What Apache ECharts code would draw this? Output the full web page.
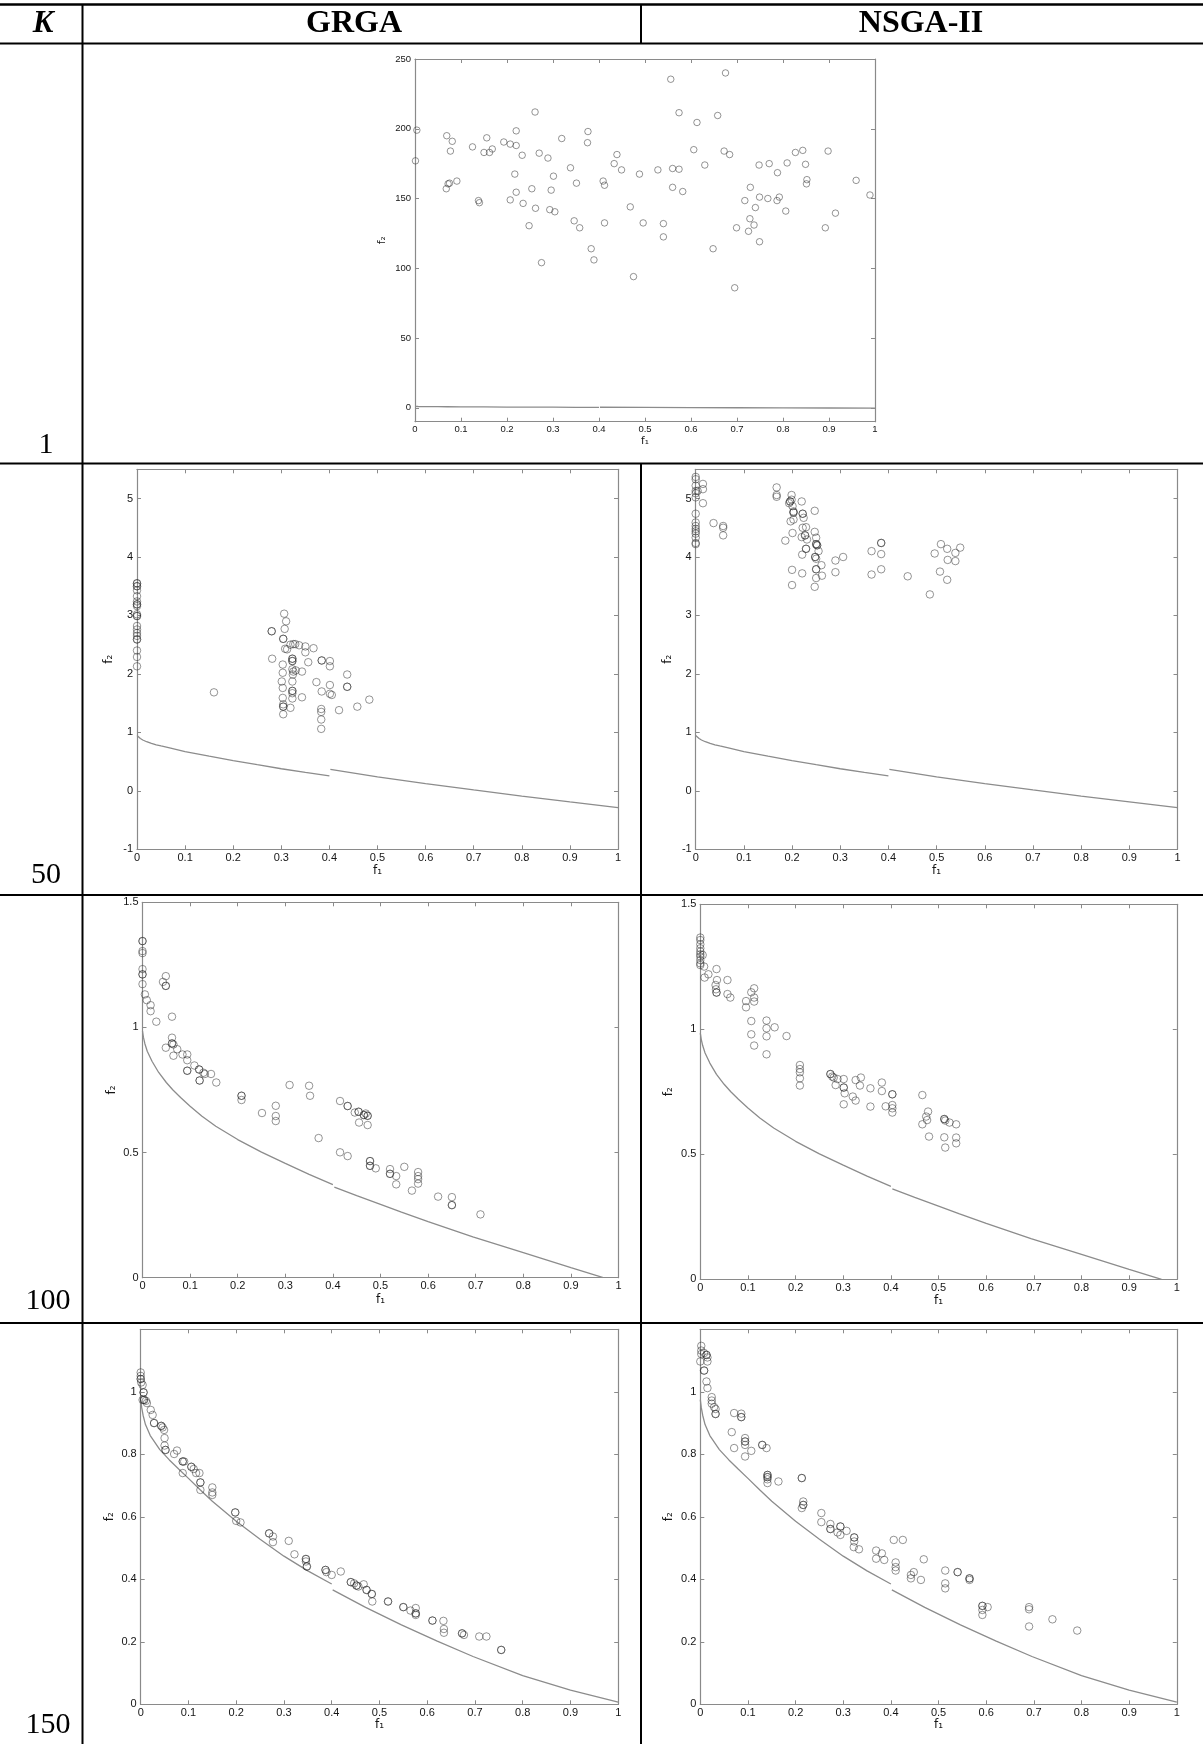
<!DOCTYPE html>
<html>
<head>
<meta charset="utf-8">
<script src="https://cdn.jsdelivr.net/npm/echarts@6/dist/echarts.min.js"></script>
<style>
html,body{margin:0;padding:0;background:#fff;}
#chart{width:1203px;height:1744px;}
</style>
</head>
<body>
<div id="chart"></div>
<script>
// ---------------- DATA ----------------
const rowLabels = ['1', '50', '100', '150'];
const colLabels = ['GRGA', 'NSGA-II'];
const xTicks = [0, 0.1, 0.2, 0.3, 0.4, 0.5, 0.6, 0.7, 0.8, 0.9, 1];
const yTicksK1 = [0, 50, 100, 150, 200, 250];
const yTicksK50 = [-1, 0, 1, 2, 3, 4, 5];
const yTicksK100 = [0, 0.5, 1, 1.5];
const yTicksK150 = [0, 0.2, 0.4, 0.6, 0.8, 1];

const k1Points = [[0.004,199],[0.001,177],[0.069,195],[0.081,191],[0.077,184],[0.068,157],[0.075,161],[0.072,160.5],[0.091,162.5],[0.125,187],[0.156,193.5],[0.150,183],[0.162,183],[0.168,185.5],[0.138,148.5],[0.140,147],[0.193,190.5],[0.207,189],[0.220,188],[0.220,198.5],[0.233,181],[0.217,167.5],[0.220,154.5],[0.207,149],[0.235,146.5],[0.248,130.5],[0.254,157],[0.261,212],[0.270,182.5],[0.262,143],[0.275,104],[0.289,179],[0.301,166],[0.296,156],[0.293,142],[0.304,140.5],[0.319,193],[0.338,172],[0.351,161],[0.346,134],[0.358,129],[0.376,198],[0.375,190],[0.383,114],[0.389,106],[0.409,162.5],[0.412,159.5],[0.412,132.5],[0.433,175],[0.439,181.5],[0.449,170.5],[0.468,144],[0.475,94],[0.488,167.5],[0.496,132.5],[0.528,170.5],[0.540,132],[0.540,122.5],[0.556,235.5],[0.560,171.5],[0.560,158],[0.574,211.5],[0.574,171],[0.582,155],[0.606,185],[0.613,204.5],[0.630,174],[0.648,114],[0.658,209.5],[0.672,184],[0.675,240],[0.684,181.5],[0.695,86],[0.699,129],[0.717,148.5],[0.725,126.5],[0.728,135.5],[0.729,158],[0.737,131],[0.740,143.5],[0.748,174],[0.749,151],[0.749,119],[0.767,150],[0.770,175],[0.788,168.5],[0.787,148.5],[0.792,151],[0.806,141],[0.809,175.5],[0.827,183],[0.843,184.5],[0.849,174.5],[0.852,163.5],[0.851,160.5],[0.892,129],[0.898,184],[0.914,139.5],[0.959,163],[0.989,152.5]];

const k50Grga = [[0,3.55],[0,3.55],[0,3.50],[0,3.50],[0,3.43],[0,3.33],[0,3.24],[0,3.19],[0,3.19],[0,3.16],[0,3.02],[0,2.99],[0,2.99],[0,2.82],[0,2.76],[0,2.70],[0,2.65],[0,2.59],[0,2.59],[0,2.40],[0,2.29],[0,2.13],
[0.160,1.685],[0.280,2.73],[0.280,2.73],[0.281,2.26],[0.306,3.03],[0.310,2.90],[0.307,2.77],[0.304,2.60],[0.304,2.60],[0.308,2.43],[0.312,2.42],[0.319,2.50],[0.325,2.51],[0.329,2.51],[0.337,2.49],[0.350,2.47],[0.350,2.37],[0.367,2.44],[0.303,2.16],[0.303,2.02],[0.301,1.87],[0.303,1.76],[0.303,1.59],[0.304,1.48],[0.304,1.44],[0.304,1.44],[0.304,1.31],[0.323,2.26],[0.323,2.26],[0.323,2.22],[0.323,2.22],[0.323,2.08],[0.325,2.04],[0.324,1.99],[0.330,2.06],[0.323,1.87],[0.323,1.71],[0.323,1.71],[0.323,1.67],[0.323,1.58],[0.319,1.42],[0.343,2.04],[0.343,1.60],[0.356,2.20],[0.384,2.23],[0.384,2.23],[0.401,2.22],[0.401,2.13],[0.373,1.86],[0.384,1.70],[0.401,1.81],[0.401,1.66],[0.405,1.64],[0.383,1.40],[0.383,1.35],[0.383,1.22],[0.383,1.06],[0.420,1.38],[0.437,1.99],[0.437,1.78],[0.437,1.78],[0.458,1.44],[0.483,1.56]];

const k50Nsga = [[0,5.37],[0,5.33],[0,5.22],[0,5.13],[0,5.09],[0,5.02],[0,4.74],[0,4.59],[0,4.53],[0,4.48],[0,4.44],[0,4.40],[0,4.33],[0,4.24],[0,4.22],[0.004,5.13],[0.015,5.25],[0.015,5.16],[0.015,4.92],[0.037,4.58],[0.057,4.53],[0.057,4.50],[0.057,4.37],[0.168,5.19],[0.168,5.06],[0.168,5.03],[0.186,4.28],[0.194,4.92],[0.196,4.95],[0.196,4.95],[0.199,5.06],[0.199,4.98],[0.201,4.87],[0.203,4.78],[0.203,4.76],[0.203,4.76],[0.197,4.61],[0.203,4.64],[0.201,4.41],[0.200,3.78],[0.200,3.52],[0.220,4.95],[0.222,4.74],[0.222,4.74],[0.224,4.67],[0.222,4.50],[0.229,4.51],[0.220,4.34],[0.227,4.37],[0.227,4.37],[0.231,4.30],[0.229,4.14],[0.229,4.14],[0.221,4.04],[0.221,3.72],[0.247,4.79],[0.247,4.43],[0.250,4.33],[0.250,4.22],[0.250,4.22],[0.252,4.20],[0.252,4.20],[0.255,4.10],[0.248,4.00],[0.248,4.00],[0.250,3.97],[0.250,3.79],[0.250,3.79],[0.261,3.86],[0.262,3.68],[0.250,3.64],[0.247,3.49],[0.290,3.94],[0.290,3.74],[0.306,4.00],[0.365,4.10],[0.385,4.24],[0.385,4.24],[0.385,4.05],[0.385,3.79],[0.365,3.70],[0.440,3.67],[0.486,3.36],[0.496,4.06],[0.507,3.75],[0.509,4.22],[0.522,4.14],[0.523,3.95],[0.522,3.61],[0.539,4.07],[0.539,3.93],[0.549,4.16]];

const k100Grga = [[0,1.345],[0,1.345],[0,1.305],[0,1.297],[0,1.233],[0,1.212],[0,1.212],[0,1.173],[0.005,1.132],[0.009,1.109],[0.017,1.089],[0.017,1.065],[0.029,1.023],[0.043,1.182],[0.049,1.205],[0.049,1.166],[0.049,1.166],[0.062,1.043],[0.062,0.959],[0.062,0.936],[0.062,0.936],[0.065,0.932],[0.049,0.919],[0.065,0.887],[0.073,0.913],[0.084,0.892],[0.094,0.892],[0.094,0.869],[0.094,0.827],[0.094,0.827],[0.109,0.848],[0.119,0.832],[0.119,0.832],[0.120,0.788],[0.120,0.788],[0.128,0.819],[0.131,0.814],[0.144,0.814],[0.155,0.780],[0.208,0.727],[0.208,0.727],[0.208,0.710],[0.251,0.658],[0.280,0.687],[0.280,0.646],[0.280,0.626],[0.309,0.770],[0.350,0.767],[0.352,0.727],[0.370,0.558],[0.415,0.706],[0.415,0.501],[0.431,0.686],[0.431,0.686],[0.431,0.486],[0.446,0.660],[0.454,0.663],[0.454,0.663],[0.455,0.620],[0.465,0.650],[0.465,0.650],[0.469,0.656],[0.473,0.647],[0.473,0.647],[0.473,0.610],[0.478,0.466],[0.478,0.466],[0.478,0.447],[0.478,0.447],[0.490,0.437],[0.520,0.434],[0.520,0.415],[0.520,0.415],[0.533,0.406],[0.533,0.373],[0.550,0.443],[0.566,0.348],[0.579,0.422],[0.579,0.406],[0.579,0.394],[0.579,0.376],[0.621,0.324],[0.650,0.322],[0.650,0.290],[0.650,0.290],[0.710,0.253]];

const k100Nsga = [[0,1.367],[0,1.357],[0,1.340],[0,1.324],[0,1.311],[0,1.300],[0,1.291],[0,1.277],[0,1.264],[0,1.257],[0.005,1.297],[0.008,1.251],[0.009,1.207],[0.017,1.220],[0.034,1.241],[0.035,1.197],[0.032,1.177],[0.033,1.160],[0.034,1.147],[0.034,1.147],[0.057,1.197],[0.057,1.141],[0.063,1.127],[0.096,1.088],[0.096,1.113],[0.107,1.148],[0.113,1.164],[0.113,1.127],[0.113,1.111],[0.107,1.033],[0.107,0.980],[0.113,0.935],[0.139,1.035],[0.139,1.004],[0.139,0.972],[0.139,0.900],[0.156,1.008],[0.181,0.973],[0.209,0.857],[0.209,0.841],[0.209,0.828],[0.209,0.804],[0.209,0.775],[0.273,0.821],[0.273,0.821],[0.277,0.811],[0.280,0.807],[0.284,0.777],[0.288,0.801],[0.301,0.801],[0.301,0.767],[0.301,0.767],[0.303,0.744],[0.301,0.700],[0.320,0.731],[0.326,0.715],[0.326,0.797],[0.335,0.775],[0.337,0.807],[0.357,0.764],[0.357,0.691],[0.381,0.787],[0.381,0.753],[0.389,0.692],[0.403,0.740],[0.403,0.740],[0.403,0.697],[0.403,0.684],[0.403,0.667],[0.466,0.737],[0.466,0.620],[0.474,0.651],[0.476,0.637],[0.478,0.671],[0.480,0.571],[0.512,0.641],[0.512,0.641],[0.514,0.635],[0.523,0.627],[0.537,0.620],[0.512,0.568],[0.514,0.527],[0.537,0.567],[0.537,0.544]];

const k150Grga = [[0,1.062],[0,1.051],[0,1.041],[0,1.041],[0.001,1.030],[0.004,1.022],[0.006,0.998],[0.006,0.998],[0.004,0.974],[0.007,0.974],[0.007,0.974],[0.011,0.971],[0.013,0.964],[0.021,0.942],[0.025,0.926],[0.028,0.900],[0.028,0.900],[0.043,0.891],[0.043,0.891],[0.046,0.886],[0.049,0.878],[0.050,0.852],[0.050,0.828],[0.052,0.814],[0.052,0.814],[0.070,0.801],[0.076,0.812],[0.088,0.777],[0.088,0.777],[0.091,0.777],[0.088,0.740],[0.106,0.760],[0.106,0.760],[0.111,0.753],[0.116,0.740],[0.123,0.740],[0.125,0.710],[0.125,0.710],[0.125,0.686],[0.150,0.694],[0.150,0.678],[0.150,0.670],[0.198,0.614],[0.198,0.614],[0.200,0.587],[0.209,0.582],[0.269,0.547],[0.269,0.547],[0.277,0.537],[0.277,0.519],[0.310,0.523],[0.322,0.480],[0.346,0.465],[0.346,0.465],[0.346,0.457],[0.348,0.441],[0.348,0.441],[0.387,0.430],[0.387,0.430],[0.389,0.423],[0.400,0.414],[0.419,0.425],[0.440,0.391],[0.440,0.391],[0.447,0.387],[0.452,0.380],[0.452,0.380],[0.456,0.377],[0.467,0.384],[0.473,0.366],[0.473,0.366],[0.484,0.353],[0.484,0.353],[0.485,0.329],[0.518,0.329],[0.518,0.329],[0.550,0.311],[0.550,0.311],[0.565,0.300],[0.576,0.308],[0.576,0.291],[0.576,0.291],[0.576,0.286],[0.611,0.268],[0.611,0.268],[0.634,0.267],[0.635,0.241],[0.635,0.229],[0.673,0.227],[0.673,0.227],[0.677,0.222],[0.709,0.217],[0.724,0.217],[0.755,0.174],[0.755,0.174]];

const k150Nsga = [[0.002,1.147],[0.002,1.132],[0.002,1.121],[0,1.097],[0.008,1.124],[0.008,1.068],[0.008,1.068],[0.013,1.118],[0.013,1.118],[0.015,1.097],[0.015,1.110],[0.013,1.033],[0.015,1.012],[0.024,0.983],[0.024,0.972],[0.024,0.962],[0.029,0.951],[0.032,0.929],[0.032,0.929],[0.032,0.945],[0.071,0.932],[0.086,0.930],[0.086,0.919],[0.086,0.919],[0.066,0.871],[0.071,0.820],[0.094,0.852],[0.094,0.841],[0.094,0.841],[0.094,0.830],[0.094,0.793],[0.107,0.811],[0.130,0.830],[0.130,0.830],[0.139,0.820],[0.141,0.734],[0.141,0.734],[0.141,0.727],[0.141,0.727],[0.141,0.720],[0.141,0.708],[0.164,0.713],[0.213,0.724],[0.213,0.724],[0.216,0.649],[0.216,0.638],[0.216,0.638],[0.213,0.628],[0.254,0.612],[0.254,0.583],[0.273,0.577],[0.273,0.561],[0.273,0.561],[0.294,0.569],[0.294,0.569],[0.294,0.542],[0.288,0.550],[0.307,0.555],[0.323,0.534],[0.323,0.534],[0.323,0.521],[0.322,0.503],[0.333,0.496],[0.369,0.492],[0.369,0.466],[0.381,0.483],[0.386,0.462],[0.406,0.526],[0.425,0.526],[0.410,0.454],[0.410,0.439],[0.410,0.428],[0.442,0.414],[0.442,0.403],[0.448,0.423],[0.463,0.398],[0.469,0.464],[0.514,0.428],[0.514,0.387],[0.514,0.371],[0.540,0.423],[0.540,0.423],[0.565,0.403],[0.565,0.403],[0.565,0.398],[0.592,0.315],[0.592,0.315],[0.592,0.302],[0.592,0.286],[0.603,0.311],[0.690,0.311],[0.690,0.304],[0.690,0.249],[0.739,0.272],[0.791,0.236]];

// Pareto fronts (two pieces each, split at f1 = 0.4)
const front50Left = [[0,0.945],[0.003,0.92],[0.007,0.895],[0.012,0.87],[0.02,0.84],[0.03,0.812],[0.04,0.788],[0.05,0.768],[0.07,0.73],[0.1,0.672],[0.15,0.593],[0.2,0.518],[0.25,0.447],[0.3,0.378],[0.35,0.315],[0.4,0.255]];
const front50Right = [[0.402,0.366],[0.5,0.24],[0.6,0.125],[0.7,0.015],[0.8,-0.09],[0.9,-0.19],[1,-0.286]];
const front100Left = [[0,0.985],[0.002,0.96],[0.005,0.935],[0.01,0.905],[0.02,0.865],[0.034,0.82],[0.05,0.78],[0.064,0.75],[0.08,0.72],[0.1,0.685],[0.125,0.645],[0.154,0.605],[0.2,0.552],[0.25,0.502],[0.3,0.457],[0.35,0.413],[0.4,0.372]];
const front100Right = [[0.403,0.362],[0.45,0.328],[0.5,0.293],[0.544,0.262],[0.6,0.224],[0.694,0.163],[0.8,0.1],[0.9,0.04],[0.968,0]];
const front150Left = [[0,0.975],[0.002,0.95],[0.005,0.925],[0.01,0.895],[0.02,0.86],[0.04,0.815],[0.06,0.782],[0.08,0.752],[0.1,0.723],[0.125,0.686],[0.15,0.65],[0.2,0.586],[0.25,0.528],[0.3,0.474],[0.35,0.427],[0.4,0.385]];
const front150Right = [[0.402,0.366],[0.471,0.31],[0.546,0.254],[0.621,0.202],[0.696,0.153],[0.8,0.092],[0.9,0.045],[1,0.007]];

// ---------------- LAYOUT / STYLE ----------------
const AX = '#8a8a8a';
const LBL = '#151515';
const panels = [
  {grid:{left:415, top:59, width:460, height:362.7}, ymin:-10, ymax:250, yt:yTicksK1, pts:k1Points, fl:front50Left, fr:front50Right, fs:9.5, sym:6.5, xGap:13, yGap:27},
  {grid:{left:137, top:469.3, width:481, height:380}, ymin:-1, ymax:5.5, yt:yTicksK50, pts:k50Grga, fl:front50Left, fr:front50Right, fs:11, sym:7.5, xGap:16, yGap:22},
  {grid:{left:695.7, top:469.3, width:481.8, height:380}, ymin:-1, ymax:5.5, yt:yTicksK50, pts:k50Nsga, fl:front50Left, fr:front50Right, fs:11, sym:7.5, xGap:16, yGap:22},
  {grid:{left:142.5, top:902.3, width:476, height:375.4}, ymin:0, ymax:1.5, yt:yTicksK100, pts:k100Grga, fl:front100Left, fr:front100Right, fs:11, sym:7.5, xGap:16, yGap:25},
  {grid:{left:700.3, top:904.3, width:476.5, height:375}, ymin:0, ymax:1.5, yt:yTicksK100, pts:k100Nsga, fl:front100Left, fr:front100Right, fs:11, sym:7.5, xGap:16, yGap:25},
  {grid:{left:140.7, top:1329.3, width:477.5, height:375}, ymin:0, ymax:1.2, yt:yTicksK150, pts:k150Grga, fl:front150Left, fr:front150Right, fs:11, sym:7.5, xGap:15, yGap:25},
  {grid:{left:700.3, top:1329.3, width:476.5, height:375}, ymin:0, ymax:1.2, yt:yTicksK150, pts:k150Nsga, fl:front150Left, fr:front150Right, fs:11, sym:7.5, xGap:15, yGap:25}
];

const fmt = v => String(Math.round(v * 100) / 100);
const grids = [], xAxes = [], yAxes = [], series = [];
panels.forEach((p, i) => {
  grids.push(Object.assign({show:false, containLabel:false}, p.grid));
  const line = {show:true, onZero:false, lineStyle:{color:AX, width:1.2}};
  const tick = {show:true, inside:true, length:4, lineStyle:{color:AX, width:1}};
  const lab = {show:true, color:LBL, fontSize:p.fs, fontFamily:'Liberation Sans, Arial, sans-serif', formatter:fmt, interval:0, hideOverlap:false, showMinLabel:true, showMaxLabel:true};
  const xBase = {gridIndex:i, type:'value', min:0, max:1, interval:0.1, splitLine:{show:false}, axisLine:line, axisTick:tick};
  xAxes.push(Object.assign({}, xBase, {position:'bottom', axisLabel:Object.assign({}, lab, {margin:3}),
    name:'f\u2081', nameLocation:'middle', nameGap:p.xGap,
    nameTextStyle:{color:LBL, fontSize:p.fs + 1, fontFamily:'DejaVu Sans, sans-serif'}}));
  xAxes.push(Object.assign({}, xBase, {position:'top', axisLabel:{show:false}}));
  const yTick = Object.assign({}, tick, {customValues:p.yt});
  const yBase = {gridIndex:i, type:'value', min:p.ymin, max:p.ymax, splitLine:{show:false}, axisLine:line, axisTick:yTick};
  yAxes.push(Object.assign({}, yBase, {position:'left', axisLabel:Object.assign({}, lab, {margin:4, customValues:p.yt}),
    name:'f\u2082', nameLocation:'middle', nameGap:p.yGap, nameRotate:90,
    nameTextStyle:{color:LBL, fontSize:p.fs + 1, fontFamily:'DejaVu Sans, sans-serif'}}));
  yAxes.push(Object.assign({}, yBase, {position:'right', axisLabel:{show:false}}));
  const ax = {xAxisIndex:2 * i, yAxisIndex:2 * i};
  [p.fl, p.fr].forEach(seg => series.push(Object.assign({type:'line', data:seg, showSymbol:false, symbol:'none',
    smooth:false, lineStyle:{color:'#8c8c8c', width:1.3}, silent:true, z:2}, ax)));
  series.push(Object.assign({type:'scatter', data:p.pts, symbol:'circle', symbolSize:p.sym,
    itemStyle:{color:'rgba(0,0,0,0)', borderColor:'rgba(40,40,40,0.62)', borderWidth:1}, silent:true, z:3}, ax));
});

// ---------------- TABLE (rules + texts) ----------------
const hl = (y, x1, x2, w) => ({type:'line', silent:true, shape:{x1:x1, y1:y, x2:x2, y2:y}, style:{stroke:'#000', lineWidth:w}});
const vl = (x, y1, y2, w) => ({type:'line', silent:true, shape:{x1:x, y1:y1, x2:x, y2:y2}, style:{stroke:'#000', lineWidth:w}});
const txt = (s, x, y, font) => ({type:'text', silent:true, style:{text:s, x:x, y:y, font:font, fill:'#000', textAlign:'center', textVerticalAlign:'middle'}});
const graphic = [
  hl(4.5, 0, 1203, 2.5), hl(43.5, 0, 1203, 2), hl(463.5, 0, 1203, 2), hl(895, 0, 1203, 2), hl(1323, 0, 1203, 2),
  vl(82.5, 4, 1744, 2), vl(641, 4, 43.5, 2), vl(641, 463.5, 1744, 2),
  txt('K', 43, 24, 'italic bold 31px "Liberation Serif", serif'),
  txt(colLabels[0], 354, 24, 'bold 32px "Liberation Serif", serif'),
  txt(colLabels[1], 921, 24, 'bold 32px "Liberation Serif", serif'),
  txt(rowLabels[0], 46, 445, '30px "Liberation Serif", serif'),
  txt(rowLabels[1], 46, 875, '30px "Liberation Serif", serif'),
  txt(rowLabels[2], 48, 1301, '30px "Liberation Serif", serif'),
  txt(rowLabels[3], 48, 1725, '30px "Liberation Serif", serif')
];

const chart = echarts.init(document.getElementById('chart'), null, {renderer:'canvas'});
chart.setOption({
  animation:false,
  backgroundColor:'#fff',
  grid:grids, xAxis:xAxes, yAxis:yAxes, series:series, graphic:graphic
});
</script>
</body>
</html>
